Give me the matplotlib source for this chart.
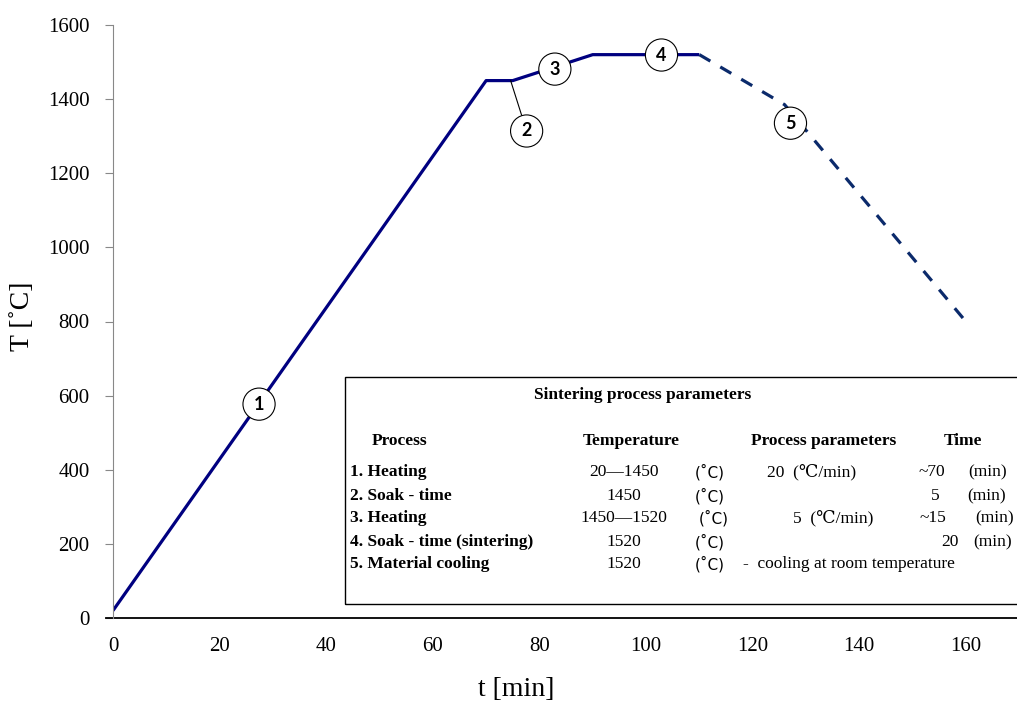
import matplotlib
matplotlib.use('Agg')
from matplotlib import pyplot as plt
from matplotlib.patches import Rectangle

# sintering curve
heat_t = [0, 70, 75, 90, 110]
heat_T = [20, 1450, 1450, 1520, 1520]
cool_t = [110, 126, 160]
cool_T = [1520, 1385, 800]

# numbered stage markers (label, point on curve, label position)
stage_labels = ['1', '2', '3', '4', '5']
stage_x = [27.4, 77.6, 82.9, 102.9, 127.1]
stage_y = [577, 1314, 1481, 1519, 1335]
leader_x = 74.6
leader_y = 1450

xticks = [0, 20, 40, 60, 80, 100, 120, 140, 160]
yticks = [0, 200, 400, 600, 800, 1000, 1200, 1400, 1600]

# table text
tbl_title = 'Sintering process parameters'
tbl_headers = ['Process', 'Temperature', 'Process parameters', 'Time']
processes = ['1. Heating', '2. Soak - time', '3. Heating',
             '4. Soak - time (sintering)', '5. Material cooling']
temps = ['20\u20141450', '1450', '1450\u20141520', '1520', '1520']
temp_unit = '(\u02daC)'
params = ['20  (\u2103/min)', '', '5  (\u2103/min)', '',
          '-  cooling at room temperature']
time_vals = ['~70', '5', '~15', '20', '']
time_unit = '(min)'

W, H = 1017, 704
serif = ['Liberation Serif', 'DejaVu Serif']
plt.rcParams['font.family'] = serif

fig = plt.figure(figsize=(W / 100, H / 100), dpi=100)
ax = fig.add_axes([113 / W, 1 - 618 / H, (W - 113) / W, (618 - 25) / H])

navy = '#000080'
ax.plot(heat_t, heat_T, color=navy, lw=2.3, solid_capstyle='butt')
ax.plot(cool_t, cool_T, color='#0b2a6b', lw=2.3, dashes=(4, 3.6))

ax.set_xlim(0, 169.6)
ax.set_ylim(0, 1600)
ax.set_xticks(xticks)
ax.set_yticks(yticks)
ax.tick_params(axis='x', length=0, pad=14, labelsize=15)
ax.tick_params(axis='y', length=6, width=0.8, color='#888888', pad=11, labelsize=15)
for s in ['top', 'right']:
    ax.spines[s].set_visible(False)
ax.spines['left'].set_color('#888888')
ax.spines['left'].set_linewidth(0.8)
ax.spines['bottom'].set_visible(False)
ax.plot([-0.008, 1], [0, 0], transform=ax.transAxes, color='black', lw=1.3, clip_on=False)

ax.set_xlabel('t [min]', fontsize=20)
ax.xaxis.set_label_coords((516 - 113) / 904, (618 - 677) / 593)
ax.set_ylabel('T [\u02daC]', fontsize=20)
ax.yaxis.set_label_coords((35 - 113) / 904, (618 - 316) / 593)

bb = dict(boxstyle='circle,pad=0.42', fc='white', ec='black', lw=0.8)
for lab, x, y in zip(stage_labels, stage_x, stage_y):
    if lab == '2':
        ax.annotate(lab, xy=(leader_x, leader_y), xytext=(x, y), ha='center', va='center',
                    fontsize=13, fontweight='bold', family='Lato', bbox=bb, zorder=5,
                    arrowprops=dict(arrowstyle='-', color='black', lw=0.8, shrinkA=0, shrinkB=0))
    else:
        ax.text(x, y, lab, ha='center', va='center', fontsize=13, fontweight='bold',
                family='Lato', bbox=bb, zorder=5)


def fx(px):
    return px / W


def fy(py):
    return 1 - py / H


# parameter box (right edge runs off the picture)
fig.patches.append(Rectangle((fx(345), fy(604)), fx(1030) - fx(345), fy(377) - fy(604),
                             transform=fig.transFigure, fill=False, ec='black', lw=1.0))

fs = 12.5
fig.text(fx(643), fy(395), tbl_title, ha='center', va='center', fontsize=fs, fontweight='bold')
for h, px in zip(tbl_headers, [400, 631, 824, 963]):
    fig.text(fx(px), fy(441), h, ha='center', va='center', fontsize=fs, fontweight='bold')

row_y = [472, 496, 518, 542, 564]
for i, y in enumerate(row_y):
    fig.text(fx(350), fy(y), processes[i], ha='left', va='center', fontsize=fs, fontweight='bold')
    fig.text(fx(624), fy(y), temps[i], ha='center', va='center', fontsize=fs)
    ux = 714 if i == 2 else 710
    fig.text(fx(ux), fy(y), temp_unit, ha='center', va='center', fontsize=fs - 1.5,
             family=['DejaVu Sans'])
    if params[i]:
        px = [767, 0, 793, 0, 743][i]
        fig.text(fx(px), fy(y), params[i], ha='left', va='center', fontsize=fs, family=serif)
    if time_vals[i]:
        tx = [932, 935, 933, 950, 0][i]
        fig.text(fx(tx), fy(y), time_vals[i], ha='center', va='center', fontsize=fs)
        ux2 = [988, 987, 995, 993, 0][i]
        fig.text(fx(ux2), fy(y), time_unit, ha='center', va='center', fontsize=fs)

fig.savefig('out.png', dpi=100)
